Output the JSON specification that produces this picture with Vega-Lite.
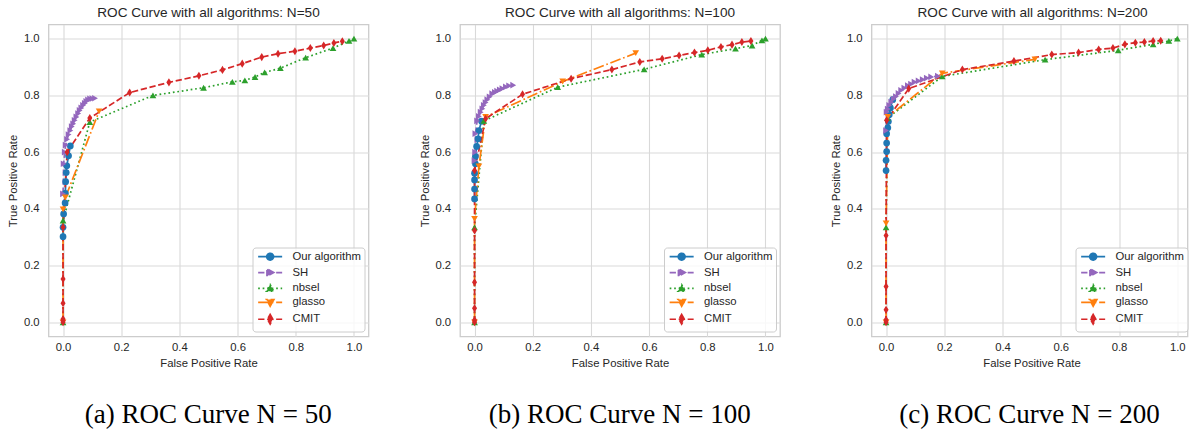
{
  "$schema": "https://vega.github.io/schema/vega-lite/v6.json",
  "background": "white",
  "padding": {"left": 6.5, "top": 4.5, "right": 0, "bottom": 0},
  "config": {
    "view": {"stroke": "#cccccc", "strokeWidth": 1.3},
    "font": "Liberation Sans",
    "axis": {"grid": true, "gridColor": "#d9d9d9", "gridWidth": 1.1, "domain": false, "ticks": false, "tickSize": 0, "labelFont": "Liberation Sans", "labelFontSize": 11.3, "labelColor": "#262626", "titleFont": "Liberation Sans", "titleFontSize": 11.3, "titleFontWeight": "normal", "titleColor": "#262626", "labelFlush": false},
    "axisX": {"labelPadding": 5, "titlePadding": 4.7},
    "axisY": {"labelPadding": 9.4, "titlePadding": 4.5},
    "legend": {"padding": 3.5, "fillColor": "rgba(255,255,255,0.8)", "strokeColor": "#cccccc", "cornerRadius": 3, "symbolSize": 64, "symbolStrokeWidth": 1.7, "labelFont": "Liberation Sans", "labelFontSize": 11.3, "labelColor": "#262626", "labelOffset": 25.2, "rowPadding": 0.9}
  },
  "data": {"values": [
    {"N":50,"alg":"Our algorithm","fpr":0,"tpr":0.302},{"N":50,"alg":"Our algorithm","fpr":0,"tpr":0.335},{"N":50,"alg":"Our algorithm","fpr":0.002,"tpr":0.382},{"N":50,"alg":"Our algorithm","fpr":0.007,"tpr":0.421},{"N":50,"alg":"Our algorithm","fpr":0.008,"tpr":0.455},{"N":50,"alg":"Our algorithm","fpr":0.009,"tpr":0.496},{"N":50,"alg":"Our algorithm","fpr":0.011,"tpr":0.528},{"N":50,"alg":"Our algorithm","fpr":0.013,"tpr":0.552},{"N":50,"alg":"Our algorithm","fpr":0.019,"tpr":0.587},{"N":50,"alg":"Our algorithm","fpr":0.025,"tpr":0.622},
    {"N":50,"alg":"SH","fpr":0,"tpr":0.453},{"N":50,"alg":"SH","fpr":0.002,"tpr":0.559},{"N":50,"alg":"SH","fpr":0.006,"tpr":0.6},{"N":50,"alg":"SH","fpr":0.009,"tpr":0.625},{"N":50,"alg":"SH","fpr":0.014,"tpr":0.645},{"N":50,"alg":"SH","fpr":0.019,"tpr":0.662},{"N":50,"alg":"SH","fpr":0.025,"tpr":0.676},{"N":50,"alg":"SH","fpr":0.03,"tpr":0.69},{"N":50,"alg":"SH","fpr":0.035,"tpr":0.7},{"N":50,"alg":"SH","fpr":0.04,"tpr":0.712},{"N":50,"alg":"SH","fpr":0.046,"tpr":0.724},{"N":50,"alg":"SH","fpr":0.052,"tpr":0.736},{"N":50,"alg":"SH","fpr":0.057,"tpr":0.747},{"N":50,"alg":"SH","fpr":0.063,"tpr":0.756},{"N":50,"alg":"SH","fpr":0.069,"tpr":0.765},{"N":50,"alg":"SH","fpr":0.075,"tpr":0.772},{"N":50,"alg":"SH","fpr":0.08,"tpr":0.779},{"N":50,"alg":"SH","fpr":0.086,"tpr":0.784},{"N":50,"alg":"SH","fpr":0.093,"tpr":0.788},{"N":50,"alg":"SH","fpr":0.101,"tpr":0.789},{"N":50,"alg":"SH","fpr":0.11,"tpr":0.79},
    {"N":50,"alg":"nbsel","fpr":0,"tpr":0},{"N":50,"alg":"nbsel","fpr":0,"tpr":0.359},{"N":50,"alg":"nbsel","fpr":0.092,"tpr":0.706},{"N":50,"alg":"nbsel","fpr":0.309,"tpr":0.8},{"N":50,"alg":"nbsel","fpr":0.483,"tpr":0.827},{"N":50,"alg":"nbsel","fpr":0.582,"tpr":0.848},{"N":50,"alg":"nbsel","fpr":0.625,"tpr":0.853},{"N":50,"alg":"nbsel","fpr":0.66,"tpr":0.865},{"N":50,"alg":"nbsel","fpr":0.693,"tpr":0.881},{"N":50,"alg":"nbsel","fpr":0.747,"tpr":0.896},{"N":50,"alg":"nbsel","fpr":0.834,"tpr":0.933},{"N":50,"alg":"nbsel","fpr":0.928,"tpr":0.967},{"N":50,"alg":"nbsel","fpr":0.983,"tpr":0.992},{"N":50,"alg":"nbsel","fpr":1,"tpr":1},
    {"N":50,"alg":"glasso","fpr":0,"tpr":0},{"N":50,"alg":"glasso","fpr":0,"tpr":0.398},{"N":50,"alg":"glasso","fpr":0.008,"tpr":0.44},{"N":50,"alg":"glasso","fpr":0.124,"tpr":0.744},
    {"N":50,"alg":"CMIT","fpr":0,"tpr":0},{"N":50,"alg":"CMIT","fpr":0,"tpr":0.006},{"N":50,"alg":"CMIT","fpr":0,"tpr":0.012},{"N":50,"alg":"CMIT","fpr":0,"tpr":0.067},{"N":50,"alg":"CMIT","fpr":0,"tpr":0.153},{"N":50,"alg":"CMIT","fpr":0,"tpr":0.335},{"N":50,"alg":"CMIT","fpr":0.014,"tpr":0.6},{"N":50,"alg":"CMIT","fpr":0.092,"tpr":0.72},{"N":50,"alg":"CMIT","fpr":0.229,"tpr":0.81},{"N":50,"alg":"CMIT","fpr":0.364,"tpr":0.846},{"N":50,"alg":"CMIT","fpr":0.467,"tpr":0.869},{"N":50,"alg":"CMIT","fpr":0.548,"tpr":0.89},{"N":50,"alg":"CMIT","fpr":0.616,"tpr":0.912},{"N":50,"alg":"CMIT","fpr":0.683,"tpr":0.935},{"N":50,"alg":"CMIT","fpr":0.739,"tpr":0.947},{"N":50,"alg":"CMIT","fpr":0.797,"tpr":0.956},{"N":50,"alg":"CMIT","fpr":0.85,"tpr":0.967},{"N":50,"alg":"CMIT","fpr":0.896,"tpr":0.976},{"N":50,"alg":"CMIT","fpr":0.931,"tpr":0.985},{"N":50,"alg":"CMIT","fpr":0.96,"tpr":0.991},

    {"N":100,"alg":"Our algorithm","fpr":0,"tpr":0.435},{"N":100,"alg":"Our algorithm","fpr":0,"tpr":0.47},{"N":100,"alg":"Our algorithm","fpr":0,"tpr":0.502},{"N":100,"alg":"Our algorithm","fpr":0,"tpr":0.526},{"N":100,"alg":"Our algorithm","fpr":0.003,"tpr":0.559},{"N":100,"alg":"Our algorithm","fpr":0.003,"tpr":0.585},{"N":100,"alg":"Our algorithm","fpr":0.007,"tpr":0.62},{"N":100,"alg":"Our algorithm","fpr":0.012,"tpr":0.647},{"N":100,"alg":"Our algorithm","fpr":0.015,"tpr":0.676},{"N":100,"alg":"Our algorithm","fpr":0.024,"tpr":0.709},
    {"N":100,"alg":"SH","fpr":0,"tpr":0.57},{"N":100,"alg":"SH","fpr":0.002,"tpr":0.6},{"N":100,"alg":"SH","fpr":0.003,"tpr":0.665},{"N":100,"alg":"SH","fpr":0.009,"tpr":0.71},{"N":100,"alg":"SH","fpr":0.015,"tpr":0.726},{"N":100,"alg":"SH","fpr":0.021,"tpr":0.741},{"N":100,"alg":"SH","fpr":0.027,"tpr":0.753},{"N":100,"alg":"SH","fpr":0.032,"tpr":0.765},{"N":100,"alg":"SH","fpr":0.038,"tpr":0.775},{"N":100,"alg":"SH","fpr":0.044,"tpr":0.785},{"N":100,"alg":"SH","fpr":0.052,"tpr":0.795},{"N":100,"alg":"SH","fpr":0.061,"tpr":0.806},{"N":100,"alg":"SH","fpr":0.07,"tpr":0.811},{"N":100,"alg":"SH","fpr":0.078,"tpr":0.815},{"N":100,"alg":"SH","fpr":0.087,"tpr":0.82},{"N":100,"alg":"SH","fpr":0.096,"tpr":0.824},{"N":100,"alg":"SH","fpr":0.108,"tpr":0.83},{"N":100,"alg":"SH","fpr":0.119,"tpr":0.834},{"N":100,"alg":"SH","fpr":0.133,"tpr":0.836},
    {"N":100,"alg":"nbsel","fpr":0,"tpr":0},{"N":100,"alg":"nbsel","fpr":0,"tpr":0.335},{"N":100,"alg":"nbsel","fpr":0.032,"tpr":0.71},{"N":100,"alg":"nbsel","fpr":0.286,"tpr":0.829},{"N":100,"alg":"nbsel","fpr":0.583,"tpr":0.892},{"N":100,"alg":"nbsel","fpr":0.781,"tpr":0.944},{"N":100,"alg":"nbsel","fpr":0.897,"tpr":0.965},{"N":100,"alg":"nbsel","fpr":0.954,"tpr":0.976},{"N":100,"alg":"nbsel","fpr":0.988,"tpr":0.994},{"N":100,"alg":"nbsel","fpr":1,"tpr":1},
    {"N":100,"alg":"glasso","fpr":0,"tpr":0},{"N":100,"alg":"glasso","fpr":0,"tpr":0.365},{"N":100,"alg":"glasso","fpr":0.015,"tpr":0.55},{"N":100,"alg":"glasso","fpr":0.038,"tpr":0.724},{"N":100,"alg":"glasso","fpr":0.303,"tpr":0.849},{"N":100,"alg":"glasso","fpr":0.554,"tpr":0.949},
    {"N":100,"alg":"CMIT","fpr":0,"tpr":0},{"N":100,"alg":"CMIT","fpr":0,"tpr":0.008},{"N":100,"alg":"CMIT","fpr":0,"tpr":0.05},{"N":100,"alg":"CMIT","fpr":0,"tpr":0.141},{"N":100,"alg":"CMIT","fpr":0,"tpr":0.324},{"N":100,"alg":"CMIT","fpr":0,"tpr":0.535},{"N":100,"alg":"CMIT","fpr":0.038,"tpr":0.718},{"N":100,"alg":"CMIT","fpr":0.165,"tpr":0.804},{"N":100,"alg":"CMIT","fpr":0.332,"tpr":0.859},{"N":100,"alg":"CMIT","fpr":0.472,"tpr":0.891},{"N":100,"alg":"CMIT","fpr":0.568,"tpr":0.918},{"N":100,"alg":"CMIT","fpr":0.645,"tpr":0.929},{"N":100,"alg":"CMIT","fpr":0.703,"tpr":0.941},{"N":100,"alg":"CMIT","fpr":0.756,"tpr":0.951},{"N":100,"alg":"CMIT","fpr":0.802,"tpr":0.959},{"N":100,"alg":"CMIT","fpr":0.847,"tpr":0.971},{"N":100,"alg":"CMIT","fpr":0.885,"tpr":0.979},{"N":100,"alg":"CMIT","fpr":0.919,"tpr":0.988},{"N":100,"alg":"CMIT","fpr":0.95,"tpr":0.992},

    {"N":200,"alg":"Our algorithm","fpr":0,"tpr":0.535},{"N":200,"alg":"Our algorithm","fpr":0,"tpr":0.571},{"N":200,"alg":"Our algorithm","fpr":0.002,"tpr":0.602},{"N":200,"alg":"Our algorithm","fpr":0.002,"tpr":0.632},{"N":200,"alg":"Our algorithm","fpr":0.002,"tpr":0.665},{"N":200,"alg":"Our algorithm","fpr":0.006,"tpr":0.686},{"N":200,"alg":"Our algorithm","fpr":0.008,"tpr":0.708},{"N":200,"alg":"Our algorithm","fpr":0.011,"tpr":0.732},{"N":200,"alg":"Our algorithm","fpr":0.015,"tpr":0.756},{"N":200,"alg":"Our algorithm","fpr":0.023,"tpr":0.785},
    {"N":200,"alg":"SH","fpr":0,"tpr":0.676},{"N":200,"alg":"SH","fpr":0.002,"tpr":0.741},{"N":200,"alg":"SH","fpr":0.006,"tpr":0.752},{"N":200,"alg":"SH","fpr":0.011,"tpr":0.765},{"N":200,"alg":"SH","fpr":0.018,"tpr":0.776},{"N":200,"alg":"SH","fpr":0.026,"tpr":0.787},{"N":200,"alg":"SH","fpr":0.034,"tpr":0.796},{"N":200,"alg":"SH","fpr":0.043,"tpr":0.807},{"N":200,"alg":"SH","fpr":0.052,"tpr":0.818},{"N":200,"alg":"SH","fpr":0.063,"tpr":0.826},{"N":200,"alg":"SH","fpr":0.075,"tpr":0.835},{"N":200,"alg":"SH","fpr":0.086,"tpr":0.84},{"N":200,"alg":"SH","fpr":0.098,"tpr":0.847},{"N":200,"alg":"SH","fpr":0.112,"tpr":0.851},{"N":200,"alg":"SH","fpr":0.126,"tpr":0.856},{"N":200,"alg":"SH","fpr":0.14,"tpr":0.861},{"N":200,"alg":"SH","fpr":0.155,"tpr":0.865},{"N":200,"alg":"SH","fpr":0.178,"tpr":0.868},
    {"N":200,"alg":"nbsel","fpr":0,"tpr":0},{"N":200,"alg":"nbsel","fpr":0,"tpr":0.335},{"N":200,"alg":"nbsel","fpr":0.005,"tpr":0.72},{"N":200,"alg":"nbsel","fpr":0.193,"tpr":0.867},{"N":200,"alg":"nbsel","fpr":0.546,"tpr":0.926},{"N":200,"alg":"nbsel","fpr":0.797,"tpr":0.959},{"N":200,"alg":"nbsel","fpr":0.917,"tpr":0.98},{"N":200,"alg":"nbsel","fpr":0.971,"tpr":0.992},{"N":200,"alg":"nbsel","fpr":1,"tpr":1},
    {"N":200,"alg":"glasso","fpr":0,"tpr":0},{"N":200,"alg":"glasso","fpr":0,"tpr":0.349},{"N":200,"alg":"glasso","fpr":0.006,"tpr":0.724},{"N":200,"alg":"glasso","fpr":0.193,"tpr":0.878},{"N":200,"alg":"glasso","fpr":0.511,"tpr":0.927},
    {"N":200,"alg":"CMIT","fpr":0,"tpr":0},{"N":200,"alg":"CMIT","fpr":0,"tpr":0.009},{"N":200,"alg":"CMIT","fpr":0,"tpr":0.044},{"N":200,"alg":"CMIT","fpr":0,"tpr":0.126},{"N":200,"alg":"CMIT","fpr":0,"tpr":0.306},{"N":200,"alg":"CMIT","fpr":0.002,"tpr":0.712},{"N":200,"alg":"CMIT","fpr":0.078,"tpr":0.824},{"N":200,"alg":"CMIT","fpr":0.262,"tpr":0.891},{"N":200,"alg":"CMIT","fpr":0.439,"tpr":0.921},{"N":200,"alg":"CMIT","fpr":0.569,"tpr":0.944},{"N":200,"alg":"CMIT","fpr":0.661,"tpr":0.951},{"N":200,"alg":"CMIT","fpr":0.73,"tpr":0.962},{"N":200,"alg":"CMIT","fpr":0.779,"tpr":0.967},{"N":200,"alg":"CMIT","fpr":0.82,"tpr":0.98},{"N":200,"alg":"CMIT","fpr":0.856,"tpr":0.986},{"N":200,"alg":"CMIT","fpr":0.887,"tpr":0.988},{"N":200,"alg":"CMIT","fpr":0.917,"tpr":0.992},{"N":200,"alg":"CMIT","fpr":0.943,"tpr":0.993}
  ]},
  "spacing": 48.5,
  "resolve": {"scale": {"x": "independent", "y": "independent"}, "legend": {"color": "independent", "shape": "independent", "strokeDash": "independent"}},
  "hconcat": [
    {
      "title": {"text": "(a) ROC Curve N = 50", "orient": "bottom", "font": "Liberation Serif", "fontSize": 27, "fontWeight": "normal", "color": "#000000", "offset": 33, "anchor": "middle", "frame": "bounds", "dx": 20},
      "resolve": {"scale": {"x": "independent", "y": "independent"}, "legend": {"color": "independent", "shape": "independent", "strokeDash": "independent"}},
      "vconcat": [
        {
          "title": {"text": "ROC Curve with all algorithms: N=50", "frame": "group", "anchor": "middle", "fontSize": 13.6, "fontWeight": "normal", "font": "Liberation Sans", "color": "#262626", "offset": 5},
          "width": 320, "height": 312,
          "transform": [{"filter": "datum.N === 50"}],
          "encoding": {
            "x": {"field": "fpr", "type": "quantitative", "title": "False Positive Rate", "scale": {"domain": [-0.05, 1.05], "nice": false, "zero": false}, "axis": {"values": [0, 0.2, 0.4, 0.6, 0.8, 1], "format": ".1f"}},
            "y": {"field": "tpr", "type": "quantitative", "title": "True Positive Rate", "scale": {"domain": [-0.05, 1.05], "nice": false, "zero": false}, "axis": {"values": [0, 0.2, 0.4, 0.6, 0.8, 1], "format": ".1f"}}
          },
          "layer": [
            {"mark": {"type": "line", "strokeWidth": 1.7},
             "encoding": {
               "color": {"field": "alg", "type": "nominal", "scale": {"domain": ["Our algorithm", "SH", "nbsel", "glasso", "CMIT"], "range": ["#1f77b4", "#9467bd", "#2ca02c", "#ff7f0e", "#d62728"]}},
               "strokeDash": {"field": "alg", "type": "nominal", "scale": {"domain": ["Our algorithm", "SH", "nbsel", "glasso", "CMIT"], "range": [[1, 0], [6.3, 2.7], [1.7, 2.8], [10.9, 2.7, 1.7, 2.7], [6.3, 2.7]]}, "legend": null},
               "order": {"field": "tpr", "type": "quantitative"}
             }},
            {"mark": {"type": "point", "filled": true, "size": 45, "opacity": 1},
             "encoding": {
               "color": {"field": "alg", "type": "nominal", "scale": {"domain": ["Our algorithm", "SH", "nbsel", "glasso", "CMIT"], "range": ["#1f77b4", "#9467bd", "#2ca02c", "#ff7f0e", "#d62728"]},
                 "legend": {"title": null, "orient": "none", "legendX": 204, "legendY": 223, "strokeColor": "#cccccc", "fillColor": "rgba(255,255,255,0.8)",
                   "encoding": {"symbols": {
                     "shape": {"value": {"expr": "datum.value==='Our algorithm'?'M-0.875,0L5.125,0M2.975,0A0.85,0.85,0,1,1,1.275,0A0.85,0.85,0,1,1,2.975,0Z':datum.value==='SH'?'M-0.875,0L5.125,0M3.025,0L1.325,-0.95L1.325,0.95Z':datum.value==='nbsel'?'M-0.875,0L5.125,0M2.125,-0.95L3.05,0.7L1.2,0.7Z':datum.value==='glasso'?'M-0.875,0L5.125,0M2.125,0.95L3.05,-0.7L1.2,-0.7Z':'M-0.875,0L5.125,0M2.125,-1.2L2.8,0L2.125,1.2L1.45,0Z'"}},
                     "stroke": {"value": {"expr": "datum.value==='Our algorithm'?'#1f77b4':datum.value==='SH'?'#9467bd':datum.value==='nbsel'?'#2ca02c':datum.value==='glasso'?'#ff7f0e':'#d62728'"}},
                     "strokeDash": {"value": {"expr": "datum.value==='Our algorithm'?[1,0]:datum.value==='nbsel'?[1.7,2.8]:datum.value==='glasso'?[10.9,2.7,1.7,2.7]:[6.3,2.7]"}},
                     "strokeWidth": {"value": 1.7}
                   }}
                 }},
               "shape": {"field": "alg", "type": "nominal", "scale": {"domain": ["CMIT", "glasso", "nbsel", "SH", "Our algorithm"], "range": ["M0,-1.2L0.75,0L0,1.2L-0.75,0Z", "triangle-down", "triangle-up", "triangle-right", "circle"]}, "legend": null}
             }}
          ]
        }
      ]
    },
    {
      "title": {"text": "(b) ROC Curve N = 100", "orient": "bottom", "font": "Liberation Serif", "fontSize": 27, "fontWeight": "normal", "color": "#000000", "offset": 33, "anchor": "middle", "frame": "bounds", "dx": 20},
      "resolve": {"scale": {"x": "independent", "y": "independent"}, "legend": {"color": "independent", "shape": "independent", "strokeDash": "independent"}},
      "vconcat": [
        {
          "title": {"text": "ROC Curve with all algorithms: N=100", "frame": "group", "anchor": "middle", "fontSize": 13.6, "fontWeight": "normal", "font": "Liberation Sans", "color": "#262626", "offset": 5},
          "width": 320, "height": 312,
          "transform": [{"filter": "datum.N === 100"}],
          "encoding": {
            "x": {"field": "fpr", "type": "quantitative", "title": "False Positive Rate", "scale": {"domain": [-0.05, 1.05], "nice": false, "zero": false}, "axis": {"values": [0, 0.2, 0.4, 0.6, 0.8, 1], "format": ".1f"}},
            "y": {"field": "tpr", "type": "quantitative", "title": "True Positive Rate", "scale": {"domain": [-0.05, 1.05], "nice": false, "zero": false}, "axis": {"values": [0, 0.2, 0.4, 0.6, 0.8, 1], "format": ".1f"}}
          },
          "layer": [
            {"mark": {"type": "line", "strokeWidth": 1.7},
             "encoding": {
               "color": {"field": "alg", "type": "nominal", "scale": {"domain": ["Our algorithm", "SH", "nbsel", "glasso", "CMIT"], "range": ["#1f77b4", "#9467bd", "#2ca02c", "#ff7f0e", "#d62728"]}},
               "strokeDash": {"field": "alg", "type": "nominal", "scale": {"domain": ["Our algorithm", "SH", "nbsel", "glasso", "CMIT"], "range": [[1, 0], [6.3, 2.7], [1.7, 2.8], [10.9, 2.7, 1.7, 2.7], [6.3, 2.7]]}, "legend": null},
               "order": {"field": "tpr", "type": "quantitative"}
             }},
            {"mark": {"type": "point", "filled": true, "size": 45, "opacity": 1},
             "encoding": {
               "color": {"field": "alg", "type": "nominal", "scale": {"domain": ["Our algorithm", "SH", "nbsel", "glasso", "CMIT"], "range": ["#1f77b4", "#9467bd", "#2ca02c", "#ff7f0e", "#d62728"]},
                 "legend": {"title": null, "orient": "none", "legendX": 204, "legendY": 223, "strokeColor": "#cccccc", "fillColor": "rgba(255,255,255,0.8)",
                   "encoding": {"symbols": {
                     "shape": {"value": {"expr": "datum.value==='Our algorithm'?'M-0.875,0L5.125,0M2.975,0A0.85,0.85,0,1,1,1.275,0A0.85,0.85,0,1,1,2.975,0Z':datum.value==='SH'?'M-0.875,0L5.125,0M3.025,0L1.325,-0.95L1.325,0.95Z':datum.value==='nbsel'?'M-0.875,0L5.125,0M2.125,-0.95L3.05,0.7L1.2,0.7Z':datum.value==='glasso'?'M-0.875,0L5.125,0M2.125,0.95L3.05,-0.7L1.2,-0.7Z':'M-0.875,0L5.125,0M2.125,-1.2L2.8,0L2.125,1.2L1.45,0Z'"}},
                     "stroke": {"value": {"expr": "datum.value==='Our algorithm'?'#1f77b4':datum.value==='SH'?'#9467bd':datum.value==='nbsel'?'#2ca02c':datum.value==='glasso'?'#ff7f0e':'#d62728'"}},
                     "strokeDash": {"value": {"expr": "datum.value==='Our algorithm'?[1,0]:datum.value==='nbsel'?[1.7,2.8]:datum.value==='glasso'?[10.9,2.7,1.7,2.7]:[6.3,2.7]"}},
                     "strokeWidth": {"value": 1.7}
                   }}
                 }},
               "shape": {"field": "alg", "type": "nominal", "scale": {"domain": ["CMIT", "glasso", "nbsel", "SH", "Our algorithm"], "range": ["M0,-1.2L0.75,0L0,1.2L-0.75,0Z", "triangle-down", "triangle-up", "triangle-right", "circle"]}, "legend": null}
             }}
          ]
        }
      ]
    },
    {
      "title": {"text": "(c) ROC Curve N = 200", "orient": "bottom", "font": "Liberation Serif", "fontSize": 27, "fontWeight": "normal", "color": "#000000", "offset": 33, "anchor": "middle", "frame": "bounds", "dx": 20},
      "resolve": {"scale": {"x": "independent", "y": "independent"}, "legend": {"color": "independent", "shape": "independent", "strokeDash": "independent"}},
      "vconcat": [
        {
          "title": {"text": "ROC Curve with all algorithms: N=200", "frame": "group", "anchor": "start", "dx": 46, "fontSize": 13.6, "fontWeight": "normal", "font": "Liberation Sans", "color": "#262626", "offset": 5},
          "width": 316, "height": 312,
          "transform": [{"filter": "datum.N === 200"}],
          "encoding": {
            "x": {"field": "fpr", "type": "quantitative", "title": "False Positive Rate", "scale": {"domain": [-0.05, 1.035], "nice": false, "zero": false}, "axis": {"values": [0, 0.2, 0.4, 0.6, 0.8, 1], "format": ".1f", "titleX": 160}},
            "y": {"field": "tpr", "type": "quantitative", "title": "True Positive Rate", "scale": {"domain": [-0.05, 1.05], "nice": false, "zero": false}, "axis": {"values": [0, 0.2, 0.4, 0.6, 0.8, 1], "format": ".1f"}}
          },
          "layer": [
            {"mark": {"type": "line", "strokeWidth": 1.7},
             "encoding": {
               "color": {"field": "alg", "type": "nominal", "scale": {"domain": ["Our algorithm", "SH", "nbsel", "glasso", "CMIT"], "range": ["#1f77b4", "#9467bd", "#2ca02c", "#ff7f0e", "#d62728"]}},
               "strokeDash": {"field": "alg", "type": "nominal", "scale": {"domain": ["Our algorithm", "SH", "nbsel", "glasso", "CMIT"], "range": [[1, 0], [6.3, 2.7], [1.7, 2.8], [10.9, 2.7, 1.7, 2.7], [6.3, 2.7]]}, "legend": null},
               "order": {"field": "tpr", "type": "quantitative"}
             }},
            {"mark": {"type": "point", "filled": true, "size": 45, "opacity": 1},
             "encoding": {
               "color": {"field": "alg", "type": "nominal", "scale": {"domain": ["Our algorithm", "SH", "nbsel", "glasso", "CMIT"], "range": ["#1f77b4", "#9467bd", "#2ca02c", "#ff7f0e", "#d62728"]},
                 "legend": {"title": null, "orient": "none", "legendX": 204, "legendY": 223, "strokeColor": "#cccccc", "fillColor": "rgba(255,255,255,0.8)",
                   "encoding": {"symbols": {
                     "shape": {"value": {"expr": "datum.value==='Our algorithm'?'M-0.875,0L5.125,0M2.975,0A0.85,0.85,0,1,1,1.275,0A0.85,0.85,0,1,1,2.975,0Z':datum.value==='SH'?'M-0.875,0L5.125,0M3.025,0L1.325,-0.95L1.325,0.95Z':datum.value==='nbsel'?'M-0.875,0L5.125,0M2.125,-0.95L3.05,0.7L1.2,0.7Z':datum.value==='glasso'?'M-0.875,0L5.125,0M2.125,0.95L3.05,-0.7L1.2,-0.7Z':'M-0.875,0L5.125,0M2.125,-1.2L2.8,0L2.125,1.2L1.45,0Z'"}},
                     "stroke": {"value": {"expr": "datum.value==='Our algorithm'?'#1f77b4':datum.value==='SH'?'#9467bd':datum.value==='nbsel'?'#2ca02c':datum.value==='glasso'?'#ff7f0e':'#d62728'"}},
                     "strokeDash": {"value": {"expr": "datum.value==='Our algorithm'?[1,0]:datum.value==='nbsel'?[1.7,2.8]:datum.value==='glasso'?[10.9,2.7,1.7,2.7]:[6.3,2.7]"}},
                     "strokeWidth": {"value": 1.7}
                   }}
                 }},
               "shape": {"field": "alg", "type": "nominal", "scale": {"domain": ["CMIT", "glasso", "nbsel", "SH", "Our algorithm"], "range": ["M0,-1.2L0.75,0L0,1.2L-0.75,0Z", "triangle-down", "triangle-up", "triangle-right", "circle"]}, "legend": null}
             }}
          ]
        }
      ]
    }
  ]
}
